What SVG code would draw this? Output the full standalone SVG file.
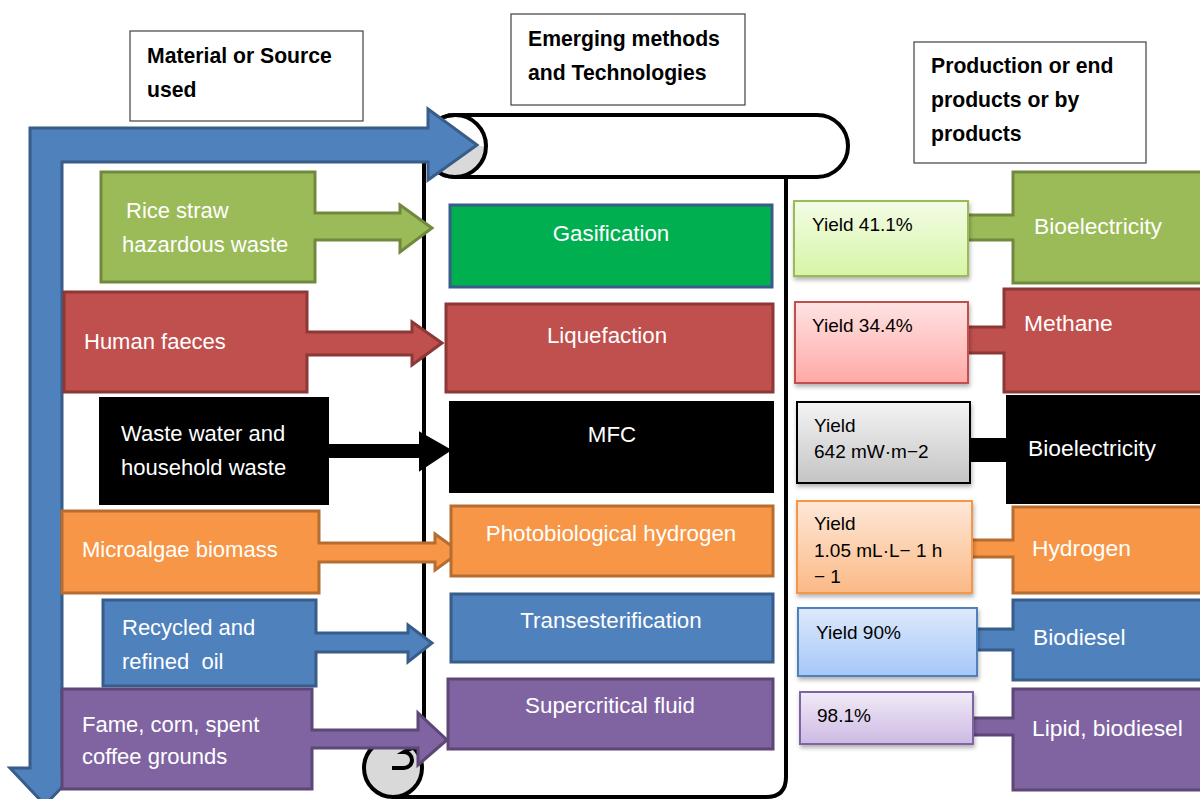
<svg xmlns="http://www.w3.org/2000/svg" width="1200" height="799" viewBox="0 0 1200 799">
<defs>
<linearGradient id="gG" x1="0" y1="0" x2="0" y2="1"><stop offset="0" stop-color="#f3fce6"/><stop offset="1" stop-color="#d7f5a6"/></linearGradient>
<linearGradient id="gR" x1="0" y1="0" x2="0" y2="1"><stop offset="0" stop-color="#ffe3e3"/><stop offset="1" stop-color="#ffa9a6"/></linearGradient>
<linearGradient id="gK" x1="0" y1="0" x2="0" y2="1"><stop offset="0" stop-color="#f4f4f4"/><stop offset="1" stop-color="#c4c4c4"/></linearGradient>
<linearGradient id="gO" x1="0" y1="0" x2="0" y2="1"><stop offset="0" stop-color="#fee8d8"/><stop offset="1" stop-color="#fbb986"/></linearGradient>
<linearGradient id="gB" x1="0" y1="0" x2="0" y2="1"><stop offset="0" stop-color="#dde9fb"/><stop offset="1" stop-color="#a6c7f8"/></linearGradient>
<linearGradient id="gP" x1="0" y1="0" x2="0" y2="1"><stop offset="0" stop-color="#f1ebf7"/><stop offset="1" stop-color="#cdb9e3"/></linearGradient>
<filter id="sh" x="-10%" y="-10%" width="130%" height="140%"><feDropShadow dx="1" dy="3" stdDeviation="2" flood-color="#000" flood-opacity="0.3"/></filter>
</defs>
<style>
.hdr{fill:#fff;stroke:#404040;stroke-width:1.2}
.ht{font-family:"Liberation Sans",Arial,sans-serif;font-weight:bold;font-size:21.2px;fill:#000}
.wt{font-family:"Liberation Sans",Arial,sans-serif;font-size:22px;fill:#fff;white-space:pre}
.pt{font-family:"Liberation Sans",Arial,sans-serif;font-size:22.8px;fill:#fff}
.ct{font-family:"Liberation Sans",Arial,sans-serif;font-size:22.3px;fill:#fff;text-anchor:middle}
.yt{font-family:"Liberation Sans",Arial,sans-serif;font-size:19px;fill:#000}
.scroll{fill:#fff;stroke:#000;stroke-width:4}
.green{fill:#9bbb59;stroke:#71893f;stroke-width:3}
.red{fill:#c0504d;stroke:#8c3836;stroke-width:3}
.black{fill:#000;stroke:#000;stroke-width:2}
.orange{fill:#f79646;stroke:#b66d31;stroke-width:3}
.blue{fill:#4f81bd;stroke:#385d8a;stroke-width:3}
.purple{fill:#8064a2;stroke:#5c4776;stroke-width:3}
</style>

<g id="headers">
<g id="hdr-material"><rect class="hdr" x="130" y="31" width="233" height="90"/><text class="ht" x="147" y="63">Material or Source</text><text class="ht" x="147" y="97">used</text></g>
<g id="hdr-methods"><rect class="hdr" x="511" y="14" width="234" height="91"/><text class="ht" x="528" y="46">Emerging methods</text><text class="ht" x="528" y="80">and Technologies</text></g>
<g id="hdr-products"><rect class="hdr" x="914" y="42" width="232" height="121"/><text class="ht" x="931" y="73">Production or end</text><text class="ht" x="931" y="107">products or by</text><text class="ht" x="931" y="141">products</text></g>
</g>

<g id="scroll">
<rect x="424" y="177" width="362" height="618" fill="#fff"/>
<path fill="none" stroke="#000" stroke-width="4" d="M424,160 V745 M786,177 V777 Q786,797 766,797 H392"/>
<rect class="scroll" x="424" y="115" width="424" height="62" rx="31"/>
<path d="M424,146 A31,31 0 0 0 486,146 Z" fill="#d9d9d9"/>
<circle cx="455" cy="146" r="31" fill="none" stroke="#000" stroke-width="4"/>
<circle cx="393" cy="768" r="29" fill="#d9d9d9" stroke="#000" stroke-width="4"/>
<path d="M392,768 H404 A8,8 0 0 0 404,752 Q414,746 424,745" fill="none" stroke="#000" stroke-width="4"/>
</g>

<g id="big-arrow">
<path d="M30,128 H428 V109 L477,145 L428,180 V162 H62 V768 H80 L45,805 L10,768 H30 Z" fill="#4f81bd" stroke="#385d8a" stroke-width="3"/>
</g>

<g id="sources">
<g id="src-rice"><path class="green" d="M101,172 H315 V213 H400 V205 L432,228 L400,252 V240 H315 V282 H101 Z"/><text class="wt" x="126" y="218">Rice straw</text><text class="wt" x="122" y="252">hazardous waste</text></g>
<g id="src-faeces"><path class="red" d="M64,292 H307 V332 H412 V322 L442,343 L412,365 V355 H307 V392 H64 Z"/><text class="wt" x="84" y="349">Human faeces</text></g>
<g id="src-water"><path class="black" d="M100,398 H328 V445 H420 V433 L450,450 L420,470 V457 H328 V504 H100 Z"/><text class="wt" x="121" y="441">Waste water and</text><text class="wt" x="121" y="475">household waste</text></g>
<g id="src-algae"><path class="orange" d="M62,511 H319 V543 H435 V534 L460,552 L435,570 V562 H319 V593 H62 Z"/><text class="wt" x="82" y="557">Microalgae biomass</text></g>
<g id="src-oil"><path class="blue" d="M103,600 H316 V633 H408 V625 L432,643 L408,662 V652 H316 V686 H103 Z"/><text class="wt" x="122" y="635">Recycled and</text><text class="wt" x="122" y="669" xml:space="preserve">refined  oil</text></g>
<g id="src-fame"><path class="purple" d="M62,689 H312 V730 H418 V713 L447,740 L418,765 V748 H312 V789 H62 Z"/><text class="wt" x="82" y="732">Fame, corn, spent</text><text class="wt" x="82" y="764">coffee grounds</text></g>
</g>

<g id="methods">
<g id="m-gas"><rect x="450" y="205" width="322" height="82" fill="#00b050" stroke="#385d8a" stroke-width="3"/><text class="ct" x="611" y="241">Gasification</text></g>
<g id="m-liq"><rect class="red" x="446" y="304" width="327" height="88"/><text class="ct" x="607" y="343">Liquefaction</text></g>
<g id="m-mfc"><rect class="black" x="450" y="402" width="323" height="90"/><text class="ct" x="612" y="442">MFC</text></g>
<g id="m-photo"><rect class="orange" x="451" y="506" width="322" height="70"/><text class="ct" x="611" y="541">Photobiological hydrogen</text></g>
<g id="m-trans"><rect class="blue" x="451" y="594" width="322" height="68"/><text class="ct" x="611" y="628">Transesterification</text></g>
<g id="m-super"><rect class="purple" x="448" y="679" width="325" height="70"/><text class="ct" x="610" y="713">Supercritical fluid</text></g>
</g>

<g id="products">
<g id="p-bioel1"><path class="green" d="M1013,172 H1212 V283 H1013 V240 H966 V215 H1013 Z"/><text class="pt" x="1034" y="234">Bioelectricity</text></g>
<g id="p-methane"><path class="red" d="M1004,289 H1212 V392 H1004 V353 H966 V327 H1004 Z"/><text class="pt" x="1024" y="331">Methane</text></g>
<g id="p-bioel2"><path class="black" d="M1007,396 H1212 V503 H1007 V461 H968 V439 H1007 Z"/><text class="pt" x="1028" y="456">Bioelectricity</text></g>
<g id="p-hydrogen"><path class="orange" d="M1013,507 H1212 V593 H1013 V557 H970 V540 H1013 Z"/><text class="pt" x="1032" y="556">Hydrogen</text></g>
<g id="p-biodiesel"><path class="blue" d="M1013,600 H1212 V680 H1013 V650 H975 V629 H1013 Z"/><text class="pt" x="1033" y="645">Biodiesel</text></g>
<g id="p-lipid"><path class="purple" d="M1013,689 H1212 V790 H1013 V735 H971 V718 H1013 Z"/><text class="pt" x="1032" y="736">Lipid, biodiesel</text></g>
</g>

<g id="yields">
<g id="y1"><rect x="794" y="201" width="174" height="75" fill="url(#gG)" stroke="#9bbb59" stroke-width="2" filter="url(#sh)"/><text class="yt" x="812" y="231">Yield 41.1%</text></g>
<g id="y2"><rect x="795" y="302" width="173" height="81" fill="url(#gR)" stroke="#c0504d" stroke-width="2" filter="url(#sh)"/><text class="yt" x="812" y="332">Yield 34.4%</text></g>
<g id="y3"><rect x="797" y="402" width="173" height="81" fill="url(#gK)" stroke="#000" stroke-width="2" filter="url(#sh)"/><text class="yt" x="814" y="432">Yield</text><text class="yt" x="814" y="458">642 mW·m−2</text></g>
<g id="y4"><rect x="797" y="501" width="175" height="92" fill="url(#gO)" stroke="#f79646" stroke-width="2" filter="url(#sh)"/><text class="yt" x="814" y="530">Yield</text><text class="yt" x="814" y="557">1.05 mL·L− 1 h</text><text class="yt" x="814" y="583">− 1</text></g>
<g id="y5"><rect x="798" y="608" width="179" height="68" fill="url(#gB)" stroke="#4f81bd" stroke-width="2" filter="url(#sh)"/><text class="yt" x="816" y="639">Yield 90%</text></g>
<g id="y6"><rect x="800" y="692" width="173" height="52" fill="url(#gP)" stroke="#8064a2" stroke-width="2" filter="url(#sh)"/><text class="yt" x="817" y="722">98.1%</text></g>
</g>
</svg>
